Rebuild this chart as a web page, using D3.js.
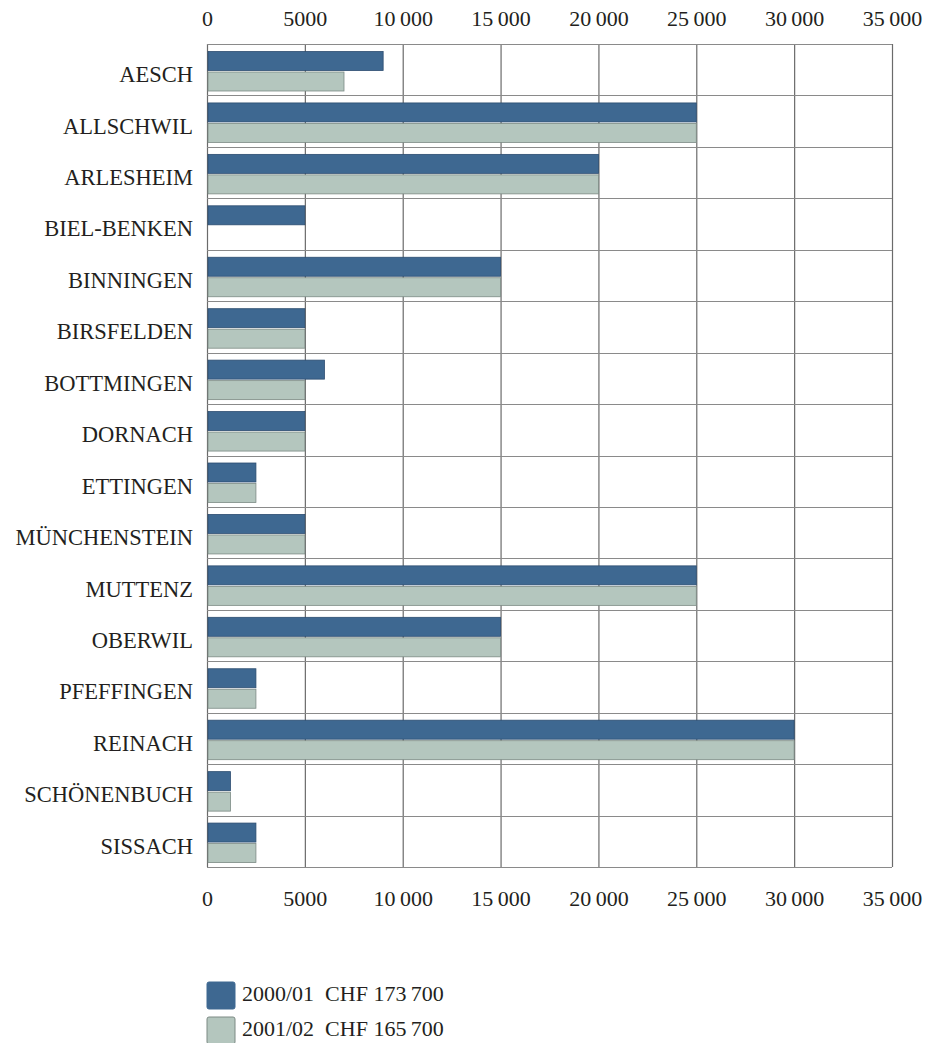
<!DOCTYPE html>
<html>
<head>
<meta charset="utf-8">
<script src="https://cdn.jsdelivr.net/npm/d3@7/dist/d3.min.js"></script>
<style>
  html, body { margin: 0; padding: 0; background: #fff; }
  svg { display: block; }
  svg text { font-family: "Liberation Serif", "Times New Roman", Times, serif; fill: #231f20; }
</style>
</head>
<body>
<svg id="chart" width="926" height="1043"></svg>
<script>
// Municipalities (Gemeinden) and their contributions in CHF
const categories = ["AESCH", "ALLSCHWIL", "ARLESHEIM", "BIEL-BENKEN", "BINNINGEN",
  "BIRSFELDEN", "BOTTMINGEN", "DORNACH", "ETTINGEN", "MÜNCHENSTEIN", "MUTTENZ",
  "OBERWIL", "PFEFFINGEN", "REINACH", "SCHÖNENBUCH", "SISSACH"];
const values2000 = [9000, 25000, 20000, 5000, 15000, 5000, 6000, 5000, 2500, 5000,
  25000, 15000, 2500, 30000, 1200, 2500];
const values2001 = [7000, 25000, 20000, 0, 15000, 5000, 5000, 5000, 2500, 5000,
  25000, 15000, 2500, 30000, 1200, 2500];
const seriesNames = ["2000/01  CHF 173\u2009700", "2001/02  CHF 165\u2009700"];
const tickValues = [0, 5000, 10000, 15000, 20000, 25000, 30000, 35000];

const FONT = '"Liberation Serif", "Times New Roman", Times, serif';
const colors = {
  blue: "#3e6891", blueEdge: "#2c4d70",
  gray: "#b4c6be", grayEdge: "#7c8a84",
  grid: "#6b6b6b", hgrid: "#8a8a8a"
};

const svg = d3.select("#chart");
const margin = { left: 207, right: 34, top: 44, bottom: 176 };
const W = 926, H = 1043;
const plotW = W - margin.left - margin.right;
const plotH = H - margin.top - margin.bottom;

const x = d3.scaleLinear().domain([0, 35000]).range([0, plotW]);
const y = d3.scaleBand().domain(categories).range([0, plotH]).paddingInner(0).paddingOuter(0);

const fmt = v => {
  const s = String(v);
  return v >= 10000 ? s.slice(0, s.length - 3) + "\u2009" + s.slice(-3) : s;
};

const g = svg.append("g").attr("transform", `translate(${margin.left},${margin.top})`);

// grid: vertical lines at each tick
g.append("g").selectAll("line").data(tickValues).join("line")
  .attr("x1", d => x(d) + 0.5).attr("x2", d => x(d) + 0.5)
  .attr("y1", 0).attr("y2", plotH)
  .attr("stroke", colors.grid).attr("stroke-width", 1.2);

// grid: horizontal row separators
const rowEdges = categories.map(c => y(c)).concat([plotH]);
g.append("g").selectAll("line").data(rowEdges).join("line")
  .attr("x1", 0).attr("x2", plotW)
  .attr("y1", d => Math.round(d) + 0.5).attr("y2", d => Math.round(d) + 0.5)
  .attr("stroke", colors.hgrid).attr("stroke-width", 1.2);

// bars
const barH = 19;
const off1 = 7.5, off2 = off1 + barH + 1.5;

const rows = categories.map((c, i) => ({ c, a: values2000[i], b: values2001[i] }));

g.append("g").selectAll("rect").data(rows.filter(d => d.a > 0)).join("rect")
  .attr("x", x(0) + 1).attr("y", d => y(d.c) + off1)
  .attr("width", d => x(d.a) - x(0) - 1).attr("height", barH)
  .attr("fill", colors.blue).attr("stroke", colors.blueEdge).attr("stroke-width", 0.8);

g.append("g").selectAll("rect").data(rows.filter(d => d.b > 0)).join("rect")
  .attr("x", x(0) + 1).attr("y", d => y(d.c) + off2)
  .attr("width", d => x(d.b) - x(0) - 1).attr("height", barH)
  .attr("fill", colors.gray).attr("stroke", colors.grayEdge).attr("stroke-width", 0.8);

// category labels
g.append("g").selectAll("text").data(categories).join("text")
  .attr("x", -14).attr("y", d => y(d) + 33)
  .attr("text-anchor", "end").attr("dominant-baseline", "middle")
  .attr("font-family", FONT).attr("font-size", 22.5)
  .text(d => d);

// top and bottom axes
const topAxis = d3.axisTop(x).tickValues(tickValues).tickFormat(fmt).tickSize(0).tickPadding(0);
const botAxis = d3.axisBottom(x).tickValues(tickValues).tickFormat(fmt).tickSize(0).tickPadding(0);

const ta = g.append("g").attr("transform", "translate(0,-23)").call(topAxis);
const ba = g.append("g").attr("transform", `translate(0,${plotH + 34})`).call(botAxis);
[ta, ba].forEach(a => {
  a.attr("font-family", FONT);
  a.select(".domain").remove();
  a.selectAll("text").attr("font-size", 22)
    .attr("font-family", FONT).attr("fill", "#231f20")
    .attr("dy", null).attr("dominant-baseline", "middle").attr("y", 0);
});

// legend
const legend = svg.append("g").attr("transform", "translate(207,982)");
const legendItems = [
  { name: seriesNames[0], fill: colors.blue, edge: colors.blue },
  { name: seriesNames[1], fill: colors.gray, edge: colors.grayEdge }
];
const li = legend.selectAll("g").data(legendItems).join("g")
  .attr("transform", (d, i) => `translate(0,${i * 35})`);
li.append("rect").attr("width", 28).attr("height", 27).attr("rx", 2)
  .attr("fill", d => d.fill).attr("stroke", d => d.edge).attr("stroke-width", 1);
li.append("text").attr("x", 35).attr("y", 14).attr("dominant-baseline", "middle")
  .attr("font-family", FONT).attr("font-size", 22)
  .style("white-space", "pre")
  .text(d => d.name);
</script>
</body>
</html>
